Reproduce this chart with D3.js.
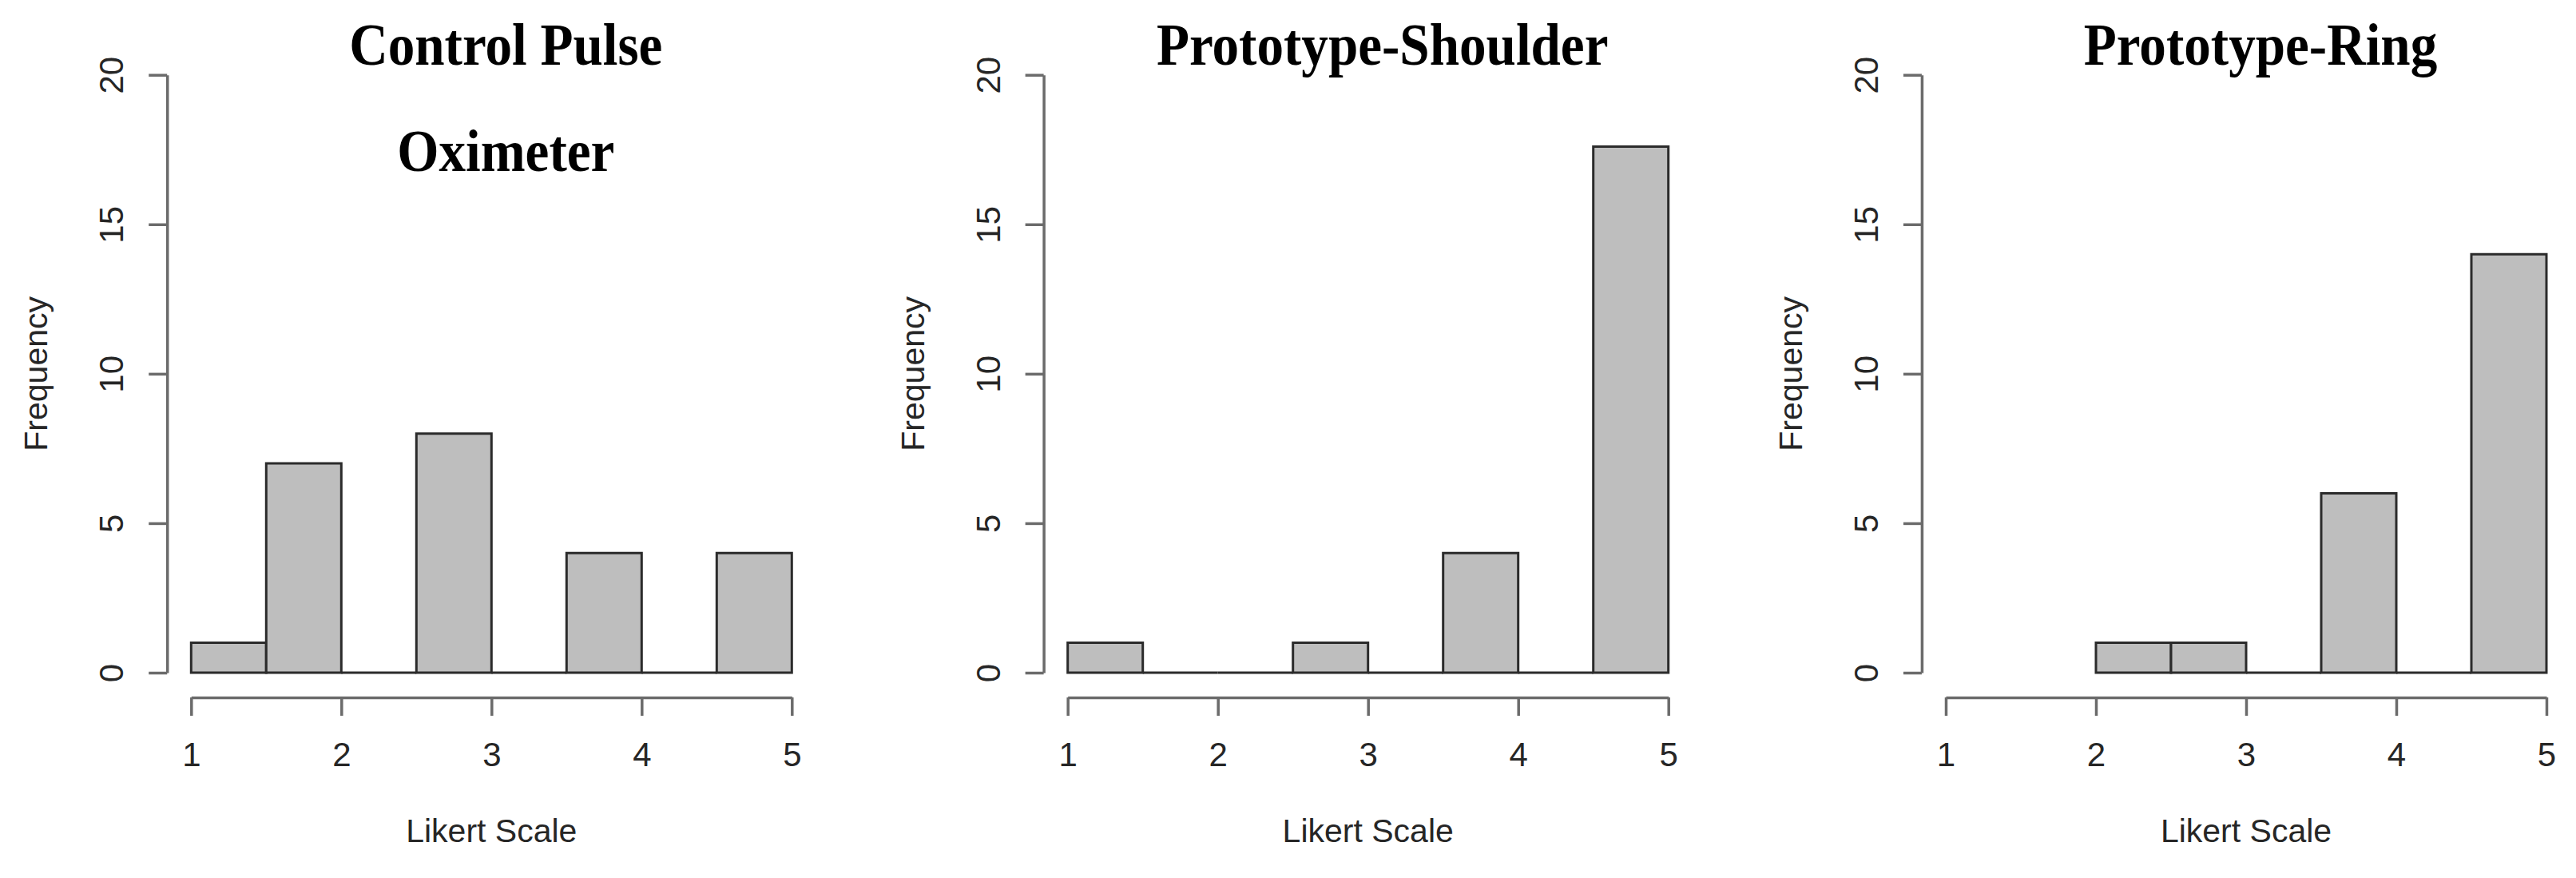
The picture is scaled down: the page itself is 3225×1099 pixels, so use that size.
<!DOCTYPE html>
<html>
<head>
<meta charset="utf-8">
<script src="https://cdn.jsdelivr.net/npm/d3@7"></script>
<style>
  body { margin: 0; background: #fff; }
  svg { display: block; }
</style>
</head>
<body>
<div id="chart"></div>
<script>
// Histogram data (counts per 0.5-wide Likert bin)
var likertTicks = [1, 2, 3, 4, 5];
var freqTicks = [0, 5, 10, 15, 20];

var panelTitles = [
    ["Control Pulse", "Oximeter"],
    ["Prototype-Shoulder"],
    ["Prototype-Ring"]
];

var controlBreaks = [1, 1.5, 2, 2.5, 3, 3.5, 4, 4.5, 5];
var controlCounts = [1, 7, 0, 8, 0, 4, 0, 4];

var shoulderBreaks = [1, 1.5, 2, 2.5, 3, 3.5, 4, 4.5, 5];
var shoulderCounts = [1, 0, 0, 1, 0, 4, 0, 17.6];

var ringBreaks = [2, 2.5, 3, 3.5, 4, 4.5, 5];
var ringCounts = [1, 1, 0, 6, 0, 14];

var xLabel = "Likert Scale";
var yLabel = "Frequency";

// layout
var W = 3225, H = 1099;
var panelLeft = [239.3, 1336.7, 2436];
var plotWidth = 752;
var plotTop = 93.7, plotBottom = 842;

var axisColor = "#6b6b6b", barStroke = "#2b2b2b", barFill = "#bebebe", textColor = "#262626";
var sansFont = "'Liberation Sans', Arial, sans-serif";
var serifFont = "'Liberation Serif', 'Times New Roman', serif";

var svg = d3.select("#chart")
    .append("svg")
    .attr("width", W)
    .attr("height", H);

var panels = [
    { breaks: controlBreaks, counts: controlCounts, title: panelTitles[0] },
    { breaks: shoulderBreaks, counts: shoulderCounts, title: panelTitles[1] },
    { breaks: ringBreaks, counts: ringCounts, title: panelTitles[2] }
];

panels.forEach(function(p, i) {
    var x = d3.scaleLinear()
        .domain([1, 5])
        .range([panelLeft[i], panelLeft[i] + plotWidth]);

    var y = d3.scaleLinear()
        .domain([0, 20])
        .range([plotBottom, plotTop]);

    var g = svg.append("g");

    var bins = p.counts.map(function(c, j) {
        return { x0: p.breaks[j], x1: p.breaks[j + 1], n: c };
    });

    // bars as paths so zero-count bins still show as a flat line, like R's hist
    g.selectAll("path.bar")
        .data(bins)
        .enter().append("path")
        .attr("class", "bar")
        .attr("d", function(d) {
            var pth = d3.path();
            pth.rect(x(d.x0), y(d.n), x(d.x1) - x(d.x0), y(0) - y(d.n));
            return pth.toString();
        })
        .attr("fill", barFill)
        .attr("stroke", barStroke)
        .attr("stroke-width", 3);

    // x axis, offset below like R (4% of y range)
    var xAxis = g.append("g")
        .attr("transform", `translate(0,${y(-0.04 * 20) + 1})`)
        .call(d3.axisBottom(x).tickValues(likertTicks).tickSize(23).tickSizeOuter(0).tickFormat(d3.format("d")));

    // y axis, offset left like R (4% of x range)
    var yAxis = g.append("g")
        .attr("transform", `translate(${x(1 - 0.04 * 4)},0)`)
        .call(d3.axisLeft(y).tickValues(freqTicks).tickSize(23).tickSizeOuter(0));

    [xAxis, yAxis].forEach(function(a) {
        a.select(".domain").attr("stroke", axisColor).attr("stroke-width", 3.5);
        a.selectAll(".tick line").attr("stroke", axisColor).attr("stroke-width", 3.5);
        a.selectAll(".tick text")
            .attr("fill", textColor)
            .style("font-family", sansFont)
            .style("font-size", "42px");
    });

    xAxis.selectAll(".tick text")
        .attr("y", 86)
        .attr("dy", null);

    yAxis.selectAll(".tick text")
        .attr("x", null)
        .attr("dy", null)
        .attr("text-anchor", "middle")
        .attr("transform", "translate(-55,0) rotate(-90)");

    // axis titles
    g.append("text")
        .attr("x", x(3))
        .attr("y", 1054)
        .attr("text-anchor", "middle")
        .attr("fill", textColor)
        .style("font-family", sansFont)
        .style("font-size", "41px")
        .text(xLabel);

    g.append("text")
        .attr("transform", `translate(${x(1 - 0.04 * 4) - 150},${y(10)}) rotate(-90)`)
        .attr("text-anchor", "middle")
        .attr("fill", textColor)
        .style("font-family", sansFont)
        .style("font-size", "41px")
        .text(yLabel);

    // bold serif title, slightly condensed as in the figure
    p.title.forEach(function(line, k) {
        g.append("text")
            .attr("transform", `translate(${x(3) + 18},${81 + k * 133}) scale(0.895,1)`)
            .attr("text-anchor", "middle")
            .attr("fill", "#000")
            .style("font-family", serifFont)
            .style("font-weight", "bold")
            .style("font-size", "75px")
            .text(line);
    });
});
</script>
</body>
</html>
